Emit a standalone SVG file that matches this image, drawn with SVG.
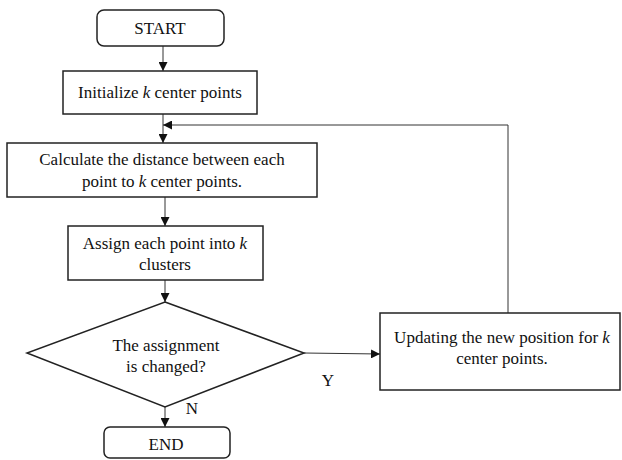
<svg xmlns="http://www.w3.org/2000/svg" width="622" height="460" viewBox="0 0 622 460">
  <defs>
    <marker id="arrow" viewBox="0 0 10 10" refX="10" refY="5" markerWidth="9" markerHeight="9" markerUnits="userSpaceOnUse" orient="auto">
      <path d="M0,0 L10,5 L0,10 Z" fill="#111"/>
    </marker>
  </defs>
  <style>
    .box { fill: #fff; stroke: #222; stroke-width: 1.5; }
    .conn { fill: none; stroke: #333; stroke-width: 1; }
    text { font-family: 'Liberation Serif', 'DejaVu Serif', serif; font-size: 17px; fill: #111; text-anchor: middle; }
    .k { font-style: italic; }
  </style>
  <rect width="622" height="460" fill="#fff"/>

  <g id="connectors">
    <line class="conn" x1="163" y1="46" x2="163" y2="71" marker-end="url(#arrow)"/>
    <line class="conn" x1="163" y1="114" x2="163" y2="143" marker-end="url(#arrow)"/>
    <line class="conn" x1="165" y1="197" x2="165" y2="226" marker-end="url(#arrow)"/>
    <line class="conn" x1="165" y1="280" x2="165" y2="302" marker-end="url(#arrow)"/>
    <line class="conn" x1="165" y1="407" x2="165" y2="427" marker-end="url(#arrow)"/>
    <line class="conn" x1="304" y1="353" x2="380" y2="354" marker-end="url(#arrow)"/>
    <polyline class="conn" points="508,313 508,125 163,125" marker-end="url(#arrow)"/>
    <text x="328" y="386">Y</text>
    <text x="192" y="414">N</text>
  </g>

  <g id="start">
    <rect class="box" x="97" y="10" width="127" height="36" rx="7"/>
    <text x="160" y="34">START</text>
  </g>

  <g id="init">
    <rect class="box" x="63" y="71" width="194" height="43"/>
    <text x="160" y="98">Initialize <tspan class="k">k</tspan> center points</text>
  </g>

  <g id="distance">
    <rect class="box" x="7" y="143" width="310" height="54"/>
    <text x="162" y="165">Calculate the distance between each</text>
    <text x="162" y="187">point to <tspan class="k">k</tspan> center points.</text>
  </g>

  <g id="assign">
    <rect class="box" x="68" y="226" width="195" height="54"/>
    <text x="165" y="249">Assign each point into <tspan class="k">k</tspan></text>
    <text x="165" y="270">clusters</text>
  </g>

  <g id="decision">
    <polygon class="box" points="165,302 304,353 165,407 27,353"/>
    <text x="166" y="351">The assignment</text>
    <text x="166" y="372">is changed?</text>
  </g>

  <g id="update">
    <rect class="box" x="380" y="313" width="240" height="77"/>
    <text x="502" y="343">Updating the new position for <tspan class="k">k</tspan></text>
    <text x="502" y="364">center points.</text>
  </g>

  <g id="end">
    <rect class="box" x="104" y="427" width="126" height="31" rx="6"/>
    <text x="166" y="450">END</text>
  </g>
</svg>
